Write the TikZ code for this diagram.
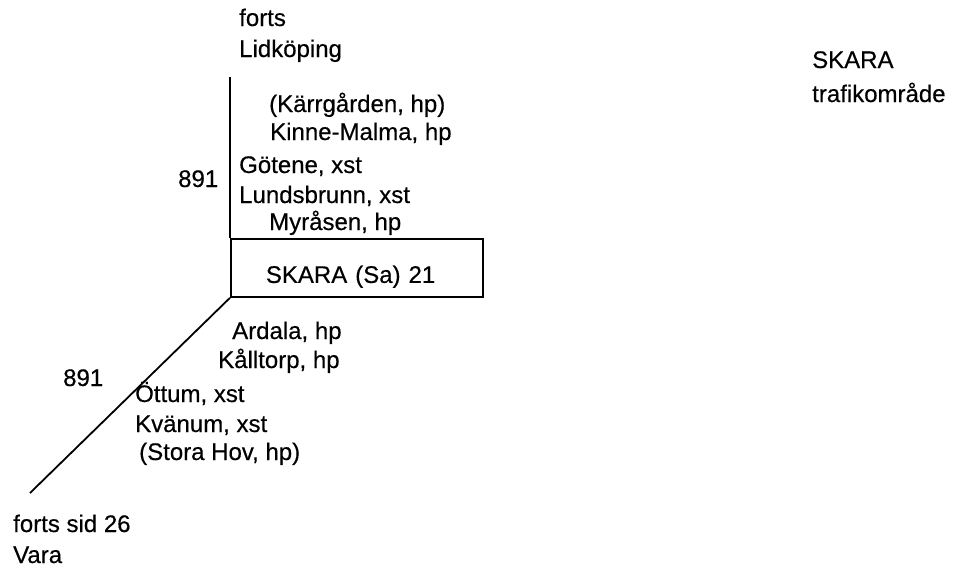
\documentclass[tikz,border=0pt]{standalone}
\usepackage{fontspec}
\setmainfont{Liberation Sans}
\newfontfamily\stnfont{Liberation Sans}[FakeBold=0.4]
\usetikzlibrary{positioning}
\tikzset{
  stn/.style={anchor=base west, inner sep=0pt, font=\stnfont\fontsize{24}{28}\selectfont},
  route/.style={line width=1.8pt},
}

\begin{document}
\begin{tikzpicture}[x=1pt,y=-1pt]
  \useasboundingbox (0,0) rectangle (966,571);

  % station box
  \node[draw, route, anchor=north west, minimum width=252pt, minimum height=58pt,
        inner xsep=35pt, inner ysep=0pt, text width=182pt, align=left,
        text height=30pt, text depth=0pt, font=\stnfont\fontsize{24}{28}\selectfont]
        (skara) at (230,238) {SKARA (Sa) 21};

  \coordinate (northend) at (230,77);
  \coordinate (southend) at (30,493);
  \draw[route] (northend) -- (skara.north west);
  \draw[route] (skara.south west) -- (southend);

  % towards Lidkoping
  \node[stn] (forts1) at (239,26) {forts};
  \node[stn] (lidk) at (239,57) {Lidköping};
  \node[stn] (karr) at (269,112) {(Kärrgården, hp)};
  \node[stn] (kinne) at (270,140) {Kinne-Malma, hp};
  \node[stn] (gotene) at (239,173) {Götene, xst};
  \node[stn] (km1) at (178,187) {891};
  \node[stn] (lunds) at (239,203) {Lundsbrunn, xst};
  \node[stn] (myra) at (269,230) {Myråsen, hp};

  % towards Vara
  \node[stn] (ardala) at (232,339) {Ardala, hp};
  \node[stn] (kall) at (218,368) {Kålltorp, hp};
  \node[stn] (km2) at (63,386) {891};
  \node[stn] (ottum) at (135,402) {Öttum, xst};
  \node[stn] (kvan) at (135,432) {Kvänum, xst};
  \node[stn] (stora) at (139,460) {(Stora Hov, hp)};
  \node[stn] (forts2) at (13,532) {forts sid 26};
  \node[stn] (vara) at (13,563) {Vara};

  % area
  \node[stn] (area) at (812,68) {SKARA};
  \node[stn] (trafik) at (812,102) {trafikområde};
\end{tikzpicture}
\end{document}
